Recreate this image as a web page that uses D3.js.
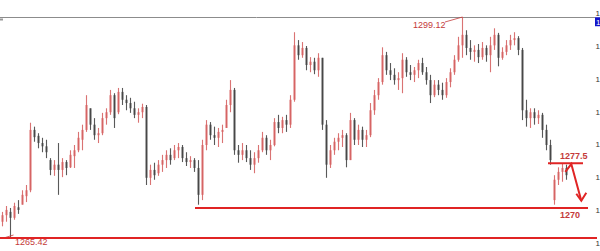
<!DOCTYPE html>
<html>
<head>
<meta charset="utf-8">
<script src="https://cdn.jsdelivr.net/npm/d3@7"></script>
<style>
  body { margin: 0; background: #fff; }
  svg { display: block; font-family: "Liberation Sans", Arial, sans-serif; }
</style>
</head>
<body>
<svg id="chart" width="600" height="251"></svg>
<script>
// OHLC bars, oldest first
const opens = [1267.9,1268.9,1269.4,1268.5,1270.1,1270.5,1271.8,1272.7,1281.9,1281.0,1279.9,1279.4,1277.3,1275.8,1276.6,1275.8,1277.0,1276.2,1277.9,1278.8,
  1280.4,1281.9,1285.2,1282.7,1281.1,1281.4,1283.7,1284.6,1287.2,1284.6,1287.7,1286.5,1286.0,1285.2,1284.2,1284.6,1285.4,1274.6,1275.8,1275.3,
  1276.6,1277.3,1278.1,1277.6,1278.8,1279.3,1277.6,1277.0,1277.3,1276.1,1272.0,1279.6,1282.7,1281.1,1280.7,1281.6,1282.2,1285.7,1288.0,1278.8,
  1278.1,1278.8,1277.6,1276.6,1277.6,1278.8,1280.7,1278.8,1279.6,1283.1,1282.2,1283.4,1282.7,1286.5,1294.8,1293.3,1294.4,1291.8,1292.3,1291.0,
  1292.9,1282.7,1276.6,1278.8,1280.1,1280.7,1281.1,1277.3,1283.4,1280.4,1281.9,1280.4,1281.1,1284.9,1287.2,1289.2,1293.3,1291.0,1290.3,1289.5,
  1289.8,1292.6,1290.7,1290.3,1291.0,1292.1,1290.7,1289.5,1287.2,1288.8,1288.0,1287.2,1289.2,1290.7,1292.6,1294.8,1296.4,1294.4,1293.8,1294.1,
  1293.0,1294.4,1293.3,1294.8,1296.4,1292.9,1293.8,1294.8,1295.6,1295.9,1294.1,1284.9,1283.7,1284.6,1283.7,1284.2,1281.9,1279.6,1271.2,1274.3,
  1275.5,1276.1];
const highs = [1269.4,1270.3,1270.0,1270.8,1271.2,1272.7,1273.5,1283.0,1282.4,1281.4,1280.7,1280.4,1277.6,1277.3,1279.9,1277.6,1277.3,1278.8,1279.6,1281.6,
  1282.7,1287.2,1285.2,1283.7,1282.2,1284.5,1285.2,1288.0,1287.5,1288.3,1288.3,1287.2,1286.8,1286.2,1285.2,1285.9,1285.7,1276.6,1276.9,1277.3,
  1278.1,1278.8,1279.1,1279.6,1279.9,1279.6,1278.5,1277.9,1277.6,1277.3,1280.4,1283.4,1283.1,1282.4,1282.2,1282.7,1286.5,1289.5,1288.3,1279.6,
  1279.9,1279.6,1278.8,1278.5,1279.6,1281.6,1281.1,1280.4,1283.7,1284.2,1283.9,1284.2,1287.2,1296.8,1295.6,1295.3,1294.7,1293.0,1292.9,1293.6,
  1292.9,1283.4,1279.6,1280.7,1281.4,1281.9,1281.4,1284.5,1283.7,1282.7,1282.4,1281.9,1286.0,1288.0,1289.8,1294.5,1293.8,1292.1,1291.3,1290.7,
  1293.6,1293.0,1291.8,1291.5,1292.6,1292.9,1291.5,1290.3,1289.5,1289.5,1289.1,1289.8,1291.3,1293.3,1296.1,1299.12,1297.1,1295.6,1294.8,1295.0,
  1295.3,1294.8,1296.1,1297.4,1296.7,1294.5,1295.6,1296.4,1296.8,1296.2,1294.4,1286.5,1285.2,1285.2,1284.9,1284.5,1282.7,1280.4,1275.0,1276.2,
  1276.7,1276.6];
const lows = [1267.2,1267.9,1265.42,1268.2,1269.1,1270.5,1270.9,1272.4,1280.1,1279.1,1278.5,1277.6,1275.0,1274.9,1272.0,1274.7,1275.0,1276.1,1276.1,1278.5,
  1278.8,1281.6,1281.9,1280.4,1279.9,1281.1,1282.7,1284.2,1282.2,1284.3,1285.7,1284.9,1284.5,1283.7,1283.0,1283.7,1273.5,1273.5,1274.3,1274.9,
  1275.5,1276.1,1276.6,1277.3,1277.6,1277.0,1276.4,1276.1,1275.5,1270.5,1271.2,1278.8,1280.4,1279.6,1279.3,1279.9,1282.2,1284.6,1278.1,1276.9,
  1277.3,1277.0,1275.8,1275.3,1276.9,1278.5,1278.1,1277.3,1279.4,1281.4,1281.4,1281.6,1282.2,1286.2,1292.6,1292.9,1291.0,1290.7,1290.4,1290.0,
  1281.9,1274.6,1276.1,1278.1,1278.8,1279.3,1276.2,1277.3,1279.6,1279.6,1279.3,1279.3,1280.8,1284.2,1286.5,1288.8,1290.3,1289.5,1288.8,1288.0,
  1287.5,1290.0,1289.5,1289.2,1289.8,1290.3,1288.8,1286.0,1286.9,1287.2,1286.5,1286.8,1288.4,1290.3,1292.3,1292.9,1293.3,1292.6,1292.3,1292.1,
  1292.6,1292.3,1290.7,1294.1,1291.6,1292.6,1293.3,1294.1,1294.8,1293.3,1283.4,1282.4,1282.2,1282.7,1282.8,1280.7,1278.8,1276.6,1270.5,1273.5,
  1274.0,1274.3];
const closes = [1268.9,1269.7,1268.5,1270.3,1269.7,1272.0,1272.7,1281.9,1280.8,1279.9,1279.4,1278.5,1275.8,1276.6,1275.8,1277.0,1276.1,1278.1,1278.8,1280.7,
  1281.9,1285.7,1282.7,1281.1,1281.4,1283.7,1284.6,1287.2,1283.7,1287.7,1286.5,1286.0,1285.2,1284.2,1284.6,1285.4,1274.6,1275.8,1275.0,1276.6,
  1277.3,1278.1,1277.3,1278.8,1279.3,1277.6,1277.0,1277.3,1276.1,1272.0,1279.6,1282.7,1281.1,1280.7,1281.6,1281.9,1285.7,1288.0,1278.8,1278.1,
  1278.8,1277.6,1276.6,1277.6,1278.8,1280.7,1278.8,1279.6,1283.1,1282.2,1283.4,1282.7,1286.5,1294.8,1293.3,1294.4,1291.8,1292.3,1291.0,1292.9,
  1282.7,1276.6,1278.8,1280.1,1280.7,1281.1,1277.3,1283.4,1280.4,1281.9,1280.4,1281.1,1284.9,1287.2,1289.2,1293.3,1291.0,1290.3,1289.5,1289.8,
  1292.6,1290.7,1290.3,1291.0,1292.1,1290.7,1289.5,1287.2,1288.8,1288.0,1287.2,1289.2,1290.7,1292.6,1294.8,1296.4,1294.4,1293.8,1294.1,1293.0,
  1294.4,1293.3,1294.8,1296.4,1292.9,1293.8,1294.8,1295.6,1295.9,1294.1,1284.9,1283.7,1284.6,1283.7,1284.2,1281.9,1279.6,1277.3,1274.3,1275.5,
  1276.1,1275.0];

const priceTicks = [1300, 1295, 1290, 1285, 1280, 1275, 1270, 1265];
const chartHigh = 1299.12, chartLow = 1265.42;
const currentPrice = 1298.4;
// drawn support / resistance levels: [price, label]
const levels = [[1276.8, "1277.5"], [1270, "1270"]];
// forecast arrow, in [bar index, price]
const arrowPts = [[140.7, 1275.5], [142.2, 1276.7], [144.7, 1271.1]];

const width = 600, height = 251;
const svg = d3.select("#chart");
const red = "#e02424", labelRed = "#c43a3a";

const n = closes.length;
const x = d3.scaleLinear().domain([0, n - 1]).range([2.5, 566.5]);
const y = d3.scaleLinear().domain([chartLow, chartHigh]).range([238, 17]);

// price axis on the right, mostly cut off by the window edge
const axis = d3.axisRight(y).tickValues(priceTicks).tickSize(0).tickPadding(0)
  .tickFormat(d3.format(".2f"));
svg.append("g")
  .attr("transform", "translate(595.5,2)")
  .call(axis)
  .call(g => g.select(".domain").remove())
  .selectAll("text")
  .attr("font-size", 8)
  .attr("fill", "#333")
  .attr("font-family", "Liberation Sans, Arial, sans-serif");

// top border line of the price window
svg.append("line")
  .attr("x1", 0).attr("x2", 595)
  .attr("y1", 17.5).attr("y2", 17.5)
  .attr("stroke", "#8c8c8c").attr("stroke-width", 1);
svg.append("rect")
  .attr("x", 0).attr("y", 18.5).attr("width", 3).attr("height", 2)
  .attr("fill", "#999");

// current price tag
svg.append("rect")
  .attr("x", 595).attr("y", y(currentPrice) - 4.5)
  .attr("width", 10).attr("height", 9)
  .attr("fill", "#1414c8");
svg.append("text")
  .attr("x", 596).attr("y", y(currentPrice) + 3)
  .attr("font-size", 8).attr("fill", "#fff")
  .text(d3.format(".2f")(currentPrice));

// bars
const bars = svg.append("g");
const idx = d3.range(n);
const colorOf = i => closes[i] >= opens[i] ? "#d45a5a" : "#3c3c3c";
bars.selectAll("line.wick")
  .data(idx)
  .join("line")
  .attr("class", "wick")
  .attr("x1", i => x(i)).attr("x2", i => x(i))
  .attr("y1", i => y(highs[i])).attr("y2", i => y(lows[i]))
  .attr("stroke", colorOf)
  .attr("stroke-width", 1.1)
  .attr("stroke-opacity", 0.85);
bars.selectAll("rect.body")
  .data(idx)
  .join("rect")
  .attr("class", "body")
  .attr("x", i => x(i) - 1.2)
  .attr("width", 2.4)
  .attr("y", i => y(Math.max(opens[i], closes[i])))
  .attr("height", i => Math.max(1, Math.abs(y(opens[i]) - y(closes[i]))))
  .attr("fill", colorOf)
  .attr("fill-opacity", 0.6);

// high / low labels
const iHigh = highs.indexOf(d3.max(highs));
const iLow = lows.indexOf(d3.min(lows));
svg.append("line")
  .attr("x1", 445).attr("y1", y(chartHigh) + 5)
  .attr("x2", x(iHigh)).attr("y2", y(chartHigh))
  .attr("stroke", labelRed).attr("stroke-width", 0.8);
svg.append("text")
  .attr("x", 413).attr("y", y(chartHigh) + 11)
  .attr("font-size", 9).attr("fill", labelRed)
  .text(d3.format(".2f")(chartHigh));

svg.append("text")
  .attr("x", 15).attr("y", y(chartLow) + 6.5)
  .attr("font-size", 9).attr("fill", labelRed)
  .text(d3.format(".2f")(chartLow));
svg.append("line")
  .attr("x1", 2).attr("y1", y(chartLow) + 0.5)
  .attr("x2", x(iLow) + 3).attr("y2", y(chartLow) - 3)
  .attr("stroke", labelRed).attr("stroke-width", 0.8);

// bottom line at the low
svg.append("line")
  .attr("x1", 0).attr("x2", 597)
  .attr("y1", y(chartLow)).attr("y2", y(chartLow))
  .attr("stroke", red).attr("stroke-width", 2);

// level lines
svg.append("line")
  .attr("x1", 548).attr("x2", 583)
  .attr("y1", y(levels[0][0])).attr("y2", y(levels[0][0]))
  .attr("stroke", red).attr("stroke-width", 2);
svg.append("text")
  .attr("x", 560).attr("y", y(levels[0][0]) - 4)
  .attr("font-size", 9).attr("font-weight", "bold").attr("fill", labelRed)
  .text(levels[0][1]);

svg.append("line")
  .attr("x1", 195).attr("x2", 588)
  .attr("y1", y(levels[1][0])).attr("y2", y(levels[1][0]))
  .attr("stroke", red).attr("stroke-width", 2);
svg.append("text")
  .attr("x", 560).attr("y", y(levels[1][0]) + 10)
  .attr("font-size", 9).attr("font-weight", "bold").attr("fill", labelRed)
  .text(levels[1][1]);

// arrow
const line = d3.line().x(d => x(d[0])).y(d => y(d[1]));
svg.append("path")
  .attr("d", line(arrowPts))
  .attr("fill", "none").attr("stroke", red)
  .attr("stroke-width", 2).attr("stroke-linejoin", "miter");
const tip = arrowPts[arrowPts.length - 1];
const tx = x(tip[0]), ty = y(tip[1]);
svg.append("path")
  .attr("d", `M${tx - 5},${ty - 7}L${tx},${ty}L${tx + 5},${ty - 8}`)
  .attr("fill", "none").attr("stroke", red).attr("stroke-width", 2);
</script>
</body>
</html>
